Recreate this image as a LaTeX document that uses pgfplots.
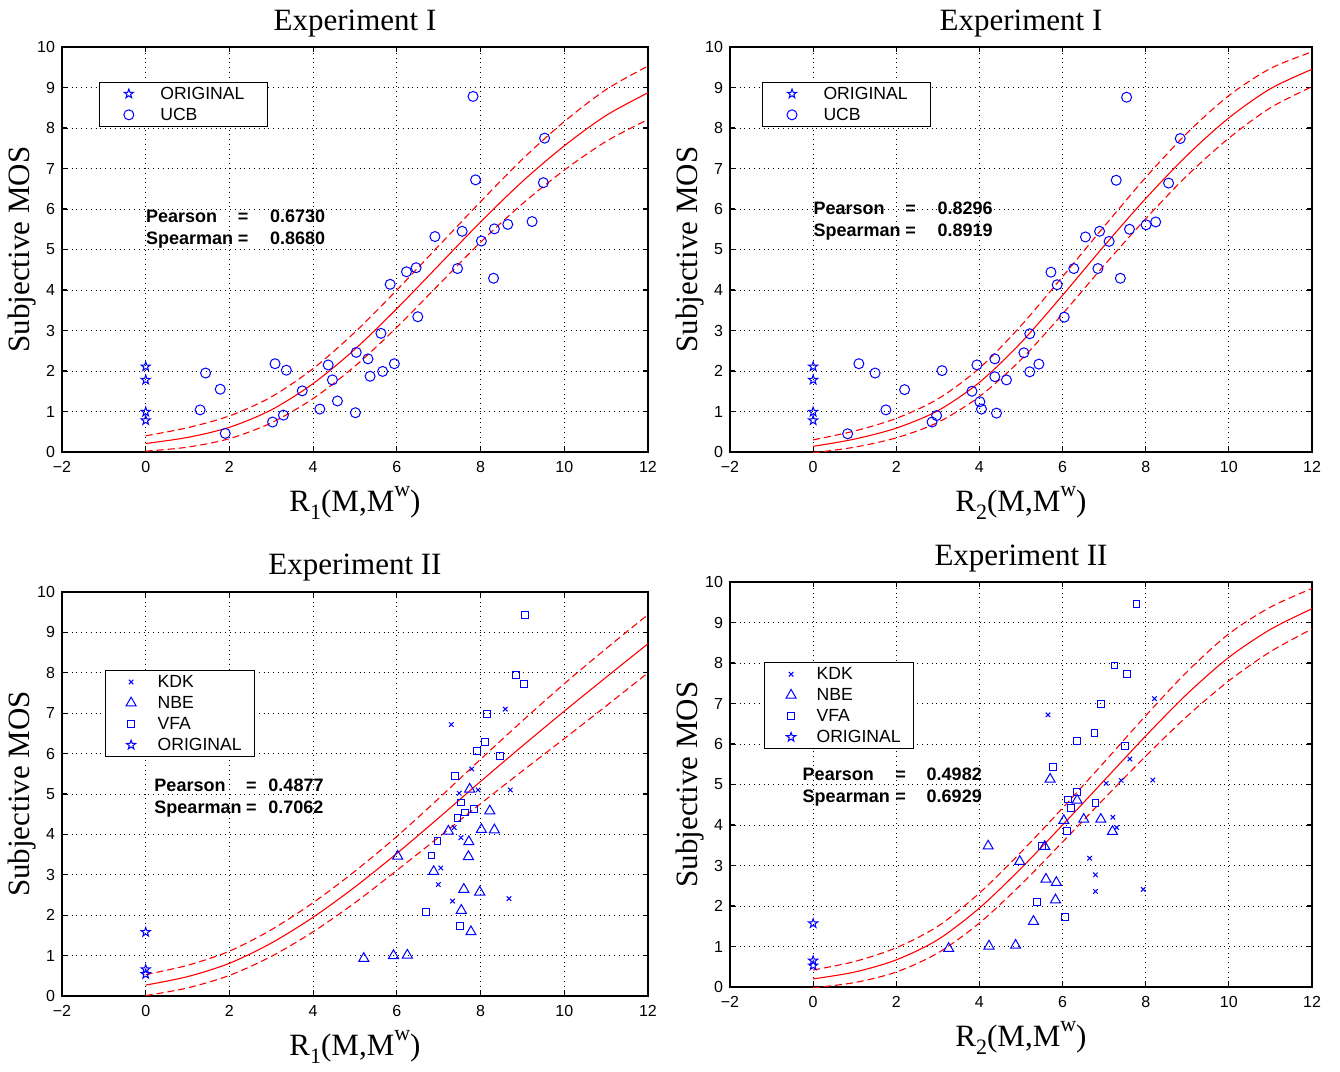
\documentclass[border=0pt]{standalone}
\usepackage{fontspec}
\setmainfont{Liberation Serif}
\setsansfont{Liberation Sans}
\usepackage{pgfplots}
\pgfplotsset{compat=1.18}
\usetikzlibrary{plotmarks}

% MATLAB-like pentagram marker
\pgfdeclareplotmark{pentagram}{%
  \pgfpathmoveto{\pgfpointpolar{90}{\pgfplotmarksize}}%
  \pgfpathlineto{\pgfpointpolar{126}{0.4\pgfplotmarksize}}%
  \pgfpathlineto{\pgfpointpolar{162}{\pgfplotmarksize}}%
  \pgfpathlineto{\pgfpointpolar{198}{0.4\pgfplotmarksize}}%
  \pgfpathlineto{\pgfpointpolar{234}{\pgfplotmarksize}}%
  \pgfpathlineto{\pgfpointpolar{270}{0.4\pgfplotmarksize}}%
  \pgfpathlineto{\pgfpointpolar{306}{\pgfplotmarksize}}%
  \pgfpathlineto{\pgfpointpolar{342}{0.4\pgfplotmarksize}}%
  \pgfpathlineto{\pgfpointpolar{18}{\pgfplotmarksize}}%
  \pgfpathlineto{\pgfpointpolar{54}{0.4\pgfplotmarksize}}%
  \pgfpathclose\pgfusepathqstroke}

\definecolor{mblue}{RGB}{0,0,255}
\definecolor{mred}{RGB}{255,0,0}

\newcommand\legmark{14.5pt}
\newcommand\legwid{30pt}
\newcommand\legtext{53.5pt}
\newcommand\Rlab[1]{R\raisebox{-0.55ex}{\fontsize{11}{11}\selectfont #1}(M,M\raisebox{1.05ex}{\fontsize{11}{11}\selectfont w})}
% #1 #2 values, #3 width of '=' box, #4 gap before values
\newcommand\corr[4]{\makebox[45pt][l]{Pearson}\makebox[#3]{=}\hspace{#4}#1\\
  \makebox[45pt][l]{Spearman}\makebox[#3]{=}\hspace{#4}#2}

\tikzset{corrnode/.style={anchor=west, align=left, inner sep=0pt,
    font=\fontsize{9}{11}\selectfont\sffamily\bfseries}}

\pgfplotsset{
  every axis title shift=0pt,
  mosaxis/.style={
    scale only axis,
    xmin=-2, xmax=12, ymin=0, ymax=10,
    xtick={-2,0,2,4,6,8,10,12},
    xticklabels={−2,0,2,4,6,8,10,12},
    ytick={0,1,2,3,4,5,6,7,8,9,10},
    yticklabels={0,1,2,3,4,5,6,7,8,9,10},
    tick align=inside,
    major tick length=2.5pt,
    tick style={black, line width=0.6pt},
    axis line style={black, line width=0.75pt},
    grid=major,
    major grid style={black, dotted, line width=0.5pt},
    ticklabel style={font=\fontsize{8}{9}\selectfont\sffamily},
    xticklabel style={yshift=-1.2pt},
    title style={font=\fontsize{15.5}{17}\selectfont, anchor=center},
    xlabel style={font=\fontsize{15.5}{17}\selectfont, anchor=center,
      at={(axis description cs:0.5,-0.126)}},
    ylabel style={font=\fontsize{15.5}{17}\selectfont, anchor=center,
      at={(axis description cs:-0.068,0.5)}},
    ylabel={Subjective MOS},
    legend cell align=left,
    legend style={anchor=north west, draw=black, line width=0.5pt,
      inner xsep=0pt, inner ysep=0.5pt,
      font=\fontsize{8.8}{10}\selectfont\sffamily,
      nodes={inner xsep=0pt, inner ysep=0pt, text height=8pt, text depth=2.5pt,
        text width=\legtext, align=left}},
  },
  datapts/.style={only marks, mblue,
    mark options={line width=0.5pt, solid},
    legend image code/.code={\path (0pt,0pt) (\legwid,0pt);
      \draw[##1] plot coordinates {(\legmark,0pt)};}},
  fitline/.style={mred, line width=0.55pt, smooth, no markers, forget plot},
  fitband/.style={mred, line width=0.55pt, smooth, no markers,
    dash pattern=on 3.5pt off 2pt, forget plot},
}

\begin{document}
\begin{tikzpicture}
\useasboundingbox (0pt,-536pt) rectangle (670pt,0pt);

% ---------------- Experiment I, R1 ----------------
\begin{axis}[mosaxis, at={(31pt,-226pt)}, anchor=south west,
  width=293pt, height=202.5pt,
  title={Experiment I}, title style={at={(axis description cs:0.5,1.059)}},
  xlabel={\Rlab{1}},
  legend style={at={(axis cs:-1.12,9.14)}}]
\addplot[datapts, mark=pentagram, mark size=2.4pt] coordinates {
  (0,2.11) (0,1.78) (0,0.99) (0,0.78)};
\addlegendentry{ORIGINAL}
\addplot[datapts, mark=o, mark size=2.5pt] coordinates {
  (1.30,1.04) (1.43,1.95) (1.78,1.55) (1.90,0.46) (3.03,0.74) (3.09,2.18)
  (3.29,0.91) (3.36,2.02) (3.74,1.51) (4.16,1.06) (4.36,2.15) (4.46,1.78)
  (4.58,1.26) (5.01,0.97) (5.03,2.46) (5.31,2.30) (5.36,1.87) (5.66,1.99)
  (5.94,2.18) (5.62,2.93) (5.84,4.14) (6.23,4.45) (6.46,4.55) (6.50,3.34)
  (6.91,5.32) (7.45,4.53) (7.56,5.45) (7.82,8.78) (7.88,6.72) (8.02,5.21)
  (8.33,5.51) (8.31,4.29) (8.65,5.62) (9.23,5.69) (9.53,7.75) (9.50,6.65)};
\addlegendentry{UCB}
\addplot[fitline] coordinates {
  (0,0.21) (1,0.36) (2,0.61) (3,1.04) (4,1.69) (5,2.54) (6,3.54)
  (7,4.61) (8,5.68) (9,6.68) (10,7.56) (11,8.31) (12,8.87)};
\addplot[fitband] coordinates {
  (0,0.40) (1,0.60) (2,0.89) (3,1.36) (4,2.06) (5,2.96) (6,4.00)
  (7,5.09) (8,6.18) (9,7.23) (10,8.16) (11,8.95) (12,9.53)};
\addplot[fitband] coordinates {
  (0,0.02) (1,0.12) (2,0.33) (3,0.72) (4,1.32) (5,2.12) (6,3.08)
  (7,4.13) (8,5.18) (9,6.13) (10,6.96) (11,7.67) (12,8.21)};
\node[corrnode] at (axis cs:0,5.5) {\corr{0.6730}{0.8680}{7pt}{10pt}};
\end{axis}

% ---------------- Experiment I, R2 ----------------
\begin{axis}[mosaxis, at={(365pt,-226pt)}, anchor=south west,
  width=291pt, height=202.5pt,
  title={Experiment I}, title style={at={(axis description cs:0.5,1.059)}},
  xlabel={\Rlab{2}},
  legend style={at={(axis cs:-1.23,9.14)}}]
\addplot[datapts, mark=pentagram, mark size=2.4pt] coordinates {
  (0,2.11) (0,1.78) (0,0.99) (0,0.78)};
\addlegendentry{ORIGINAL}
\addplot[datapts, mark=o, mark size=2.5pt] coordinates {
  (0.83,0.45) (1.10,2.18) (1.49,1.95) (1.75,1.04) (2.20,1.54) (2.86,0.74)
  (2.97,0.90) (3.10,2.01) (3.82,1.50) (3.94,2.15) (4.01,1.24) (4.05,1.06)
  (4.37,2.30) (4.37,1.86) (4.41,0.96) (4.65,1.78) (5.07,2.45) (5.21,2.92)
  (5.21,1.98) (5.43,2.17) (6.04,3.33) (5.87,4.13) (5.72,4.44) (6.27,4.53)
  (6.55,5.31) (6.85,4.53) (6.89,5.45) (7.12,5.20) (7.39,4.29) (7.29,6.71)
  (7.54,8.76) (7.61,5.50) (8.01,5.61) (8.24,5.68) (8.55,6.64) (8.83,7.74)};
\addlegendentry{UCB}
\addplot[fitline] coordinates {
  (0,0.14) (1,0.32) (2,0.59) (3,1.02) (4,1.72) (5,2.70) (6,3.87)
  (7,5.09) (8,6.26) (9,7.33) (10,8.25) (11,8.97) (12,9.45)};
\addplot[fitband] coordinates {
  (0,0.30) (1,0.52) (2,0.83) (3,1.31) (4,2.07) (5,3.12) (6,4.33)
  (7,5.57) (8,6.78) (9,7.88) (10,8.80) (11,9.47) (12,9.88)};
\addplot[fitband] coordinates {
  (0,-0.02) (1,0.12) (2,0.35) (3,0.73) (4,1.37) (5,2.28) (6,3.41)
  (7,4.61) (8,5.76) (9,6.83) (10,7.75) (11,8.50) (12,9.02)};
\node[corrnode] at (axis cs:0,5.7) {\corr{0.8296}{0.8919}{7pt}{10pt}};
\end{axis}

% ---------------- Experiment II, R1 ----------------
\renewcommand\legmark{12.5pt}
\renewcommand\legwid{25.5pt}
\renewcommand\legtext{48.5pt}
\begin{axis}[mosaxis, at={(31pt,-498pt)}, anchor=south west,
  width=293pt, height=202pt,
  title={Experiment II}, title style={at={(axis description cs:0.5,1.061)}},
  xlabel={\Rlab{1}},
  legend style={at={(axis cs:-0.97,8.07)}}]
\addplot[datapts, mark=x, mark size=1.6pt] coordinates {
  (7.30,6.72) (8.59,7.10) (7.79,5.62) (7.49,5.02) (7.94,5.10) (8.71,5.10)
  (7.37,4.17) (7.53,3.92) (7.05,3.17) (6.99,2.76) (7.33,2.35) (8.68,2.41)};
\addlegendentry{KDK}
\addplot[datapts, mark=triangle, mark size=2.9pt] coordinates {
  (5.21,0.93) (5.92,1.00) (6.25,1.01) (6.02,3.46) (6.88,3.08) (7.23,4.08)
  (7.74,5.12) (8.22,4.58) (8.02,4.12) (8.33,4.11) (7.72,3.82) (7.71,3.45)
  (7.60,2.64) (7.98,2.57) (7.54,2.12) (7.77,1.59)};
\addlegendentry{NBE}
\addplot[datapts, mark=square, mark size=1.7pt] coordinates {
  (9.06,9.44) (8.84,7.94) (9.03,7.73) (8.16,6.98) (8.11,6.28) (7.91,6.06)
  (8.46,5.94) (7.39,5.44) (7.53,4.79) (7.62,4.54) (7.45,4.41) (7.84,4.63)
  (6.97,3.84) (6.83,3.48) (6.69,2.08) (7.51,1.73)};
\addlegendentry{VFA}
\addplot[datapts, mark=pentagram, mark size=2.4pt] coordinates {
  (0,1.58) (0,0.66) (0,0.54)};
\addlegendentry{ORIGINAL}
\addplot[fitline] coordinates {
  (0,0.27) (1,0.48) (2,0.81) (3,1.31) (4,1.95) (5,2.70) (6,3.53)
  (7,4.41) (8,5.31) (9,6.19) (10,7.05) (11,7.89) (12,8.72)};
\addplot[fitband] coordinates {
  (0,0.53) (1,0.76) (2,1.11) (3,1.64) (4,2.31) (5,3.09) (6,3.95)
  (7,4.89) (8,5.86) (9,6.81) (10,7.73) (11,8.60) (12,9.44)};
\addplot[fitband] coordinates {
  (0,0.01) (1,0.20) (2,0.51) (3,0.98) (4,1.59) (5,2.31) (6,3.11)
  (7,3.93) (8,4.76) (9,5.57) (10,6.37) (11,7.18) (12,8.00)};
\node[corrnode] at (axis cs:0.2,4.89) {\corr{0.4877}{0.7062}{7pt}{5pt}};
\end{axis}

% ---------------- Experiment II, R2 ----------------
\renewcommand\legmark{13pt}
\begin{axis}[mosaxis, at={(365pt,-493.5pt)}, anchor=south west,
  width=291pt, height=202.5pt,
  title={Experiment II}, title style={at={(axis description cs:0.5,1.059)}},
  xlabel={\Rlab{2}},
  legend style={at={(axis cs:-1.18,8.02)}}]
\addplot[datapts, mark=x, mark size=1.6pt] coordinates {
  (5.65,6.72) (8.21,7.12) (7.62,5.63) (7.05,5.03) (7.41,5.10) (8.17,5.11)
  (7.21,4.19) (7.30,3.94) (6.65,3.18) (6.79,2.77) (6.79,2.36) (7.94,2.41)};
\addlegendentry{KDK}
\addplot[datapts, mark=triangle, mark size=2.9pt] coordinates {
  (5.70,5.13) (6.35,4.61) (6.03,4.11) (6.51,4.14) (6.92,4.14) (7.20,3.84)
  (4.21,3.48) (5.57,3.47) (4.97,3.10) (5.60,2.66) (5.85,2.58) (5.83,2.15)
  (5.30,1.62) (3.26,0.95) (4.23,1.01) (4.87,1.03)};
\addlegendentry{NBE}
\addplot[datapts, mark=square, mark size=1.7pt] coordinates {
  (7.78,9.45) (7.25,7.94) (7.55,7.73) (6.92,6.99) (6.77,6.28) (6.35,6.08)
  (7.51,5.95) (5.77,5.44) (6.35,4.81) (6.13,4.63) (6.20,4.42) (6.79,4.54)
  (6.10,3.85) (5.51,3.49) (5.39,2.09) (6.06,1.73)};
\addlegendentry{VFA}
\addplot[datapts, mark=pentagram, mark size=2.4pt] coordinates {
  (0,1.57) (0,0.65) (0,0.53)};
\addlegendentry{ORIGINAL}
\addplot[fitline] coordinates {
  (0,0.20) (1,0.37) (2,0.67) (3,1.17) (4,1.95) (5,2.93) (6,4.00)
  (7,5.10) (8,6.20) (9,7.24) (10,8.14) (11,8.83) (12,9.34)};
\addplot[fitband] coordinates {
  (0,0.42) (1,0.63) (2,0.97) (3,1.50) (4,2.32) (5,3.33) (6,4.42)
  (7,5.55) (8,6.70) (9,7.79) (10,8.72) (11,9.38) (12,9.84)};
\addplot[fitband] coordinates {
  (0,-0.02) (1,0.11) (2,0.37) (3,0.84) (4,1.58) (5,2.53) (6,3.58)
  (7,4.65) (8,5.70) (9,6.69) (10,7.56) (11,8.28) (12,8.84)};
\node[corrnode] at (axis cs:-0.26,4.94) {\corr{0.4982}{0.6929}{8pt}{9pt}};
\end{axis}
\end{tikzpicture}
\end{document}
